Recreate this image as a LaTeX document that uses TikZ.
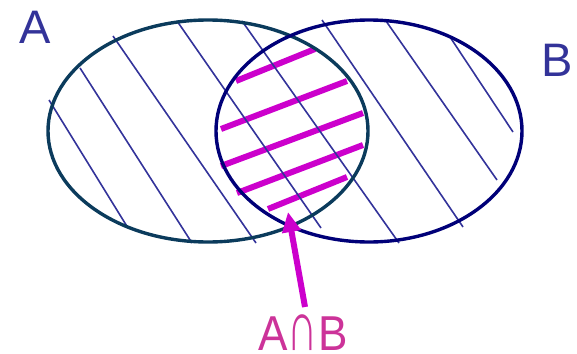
\documentclass[tikz,border=0pt]{standalone}
\usepackage{fontspec}
\setmainfont{Liberation Sans}
\usetikzlibrary{arrows.meta}
\definecolor{ringA}{HTML}{0B3B5C}
\definecolor{ringB}{HTML}{000078}
\definecolor{hatch}{HTML}{33339A}
\definecolor{mag}{HTML}{CC00CC}
\definecolor{labtxt}{HTML}{333399}
\definecolor{captxt}{HTML}{CC3399}
\tikzset{
  ringstyle/.style={line width=3.4pt},
  hatchline/.style={hatch, line width=1.6pt},
  magline/.style={mag, line width=6pt},
  setlabel/.style={text=labtxt, font=\fontsize{47}{47}\selectfont, inner sep=0pt, anchor=base west},
}
\begin{document}
\begin{tikzpicture}[x=1pt,y=-1pt]
\useasboundingbox (0,0) rectangle (577,353);
% magenta stripes
\draw[magline] (236,81) -- (315,49);
\draw[magline] (221,129) -- (347,81);
\draw[magline] (221,166) -- (363,113);
\draw[magline] (237,193) -- (363,145);
\draw[magline] (268,209) -- (347,177);
% hatch lines
\draw[hatchline] (49,100) -- (128,228);
\draw[hatchline] (80,68) -- (192,243);
\draw[hatchline] (113,36) -- (256,243);
\draw[hatchline] (177,21) -- (321,228);
\draw[hatchline] (242,21) -- (399,243);
\draw[hatchline] (322,20) -- (463,227);
\draw[hatchline] (386,21) -- (497,180);
\draw[hatchline] (450,37) -- (513,132);
% ellipses
\draw[ringstyle, ringA] (208,131) ellipse [x radius=160, y radius=111];
\draw[ringstyle, ringB] (369,131) ellipse [x radius=153, y radius=111];
% labels
\node[setlabel] (la) at (19,44) {A};
\node[setlabel] (lb) at (541,76) {B};
\node[text=captxt, font=\fontsize{49}{49}\selectfont, inner sep=0pt, anchor=base, xscale=0.9] (cap) at (303,350) {A\raisebox{-0.5pt}{\scalebox{0.95}[1.45]{∩}}B};
% arrow
\coordinate (tail) at (305,307);
\coordinate (tip) at (288,212);
\draw[mag, line width=6pt, -{Triangle[length=20pt,width=18pt]}] (tail) -- (tip);
\end{tikzpicture}
\end{document}
